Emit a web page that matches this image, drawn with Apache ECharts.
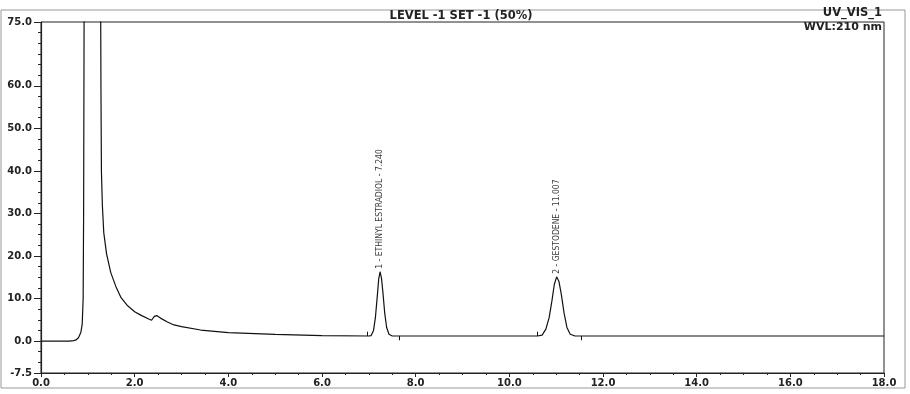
<!DOCTYPE html>
<html>
<head>
<meta charset="utf-8">
<script src="https://cdn.jsdelivr.net/npm/echarts@6/dist/echarts.min.js"></script>
<style>
html,body{margin:0;padding:0;background:#fff;}
#chart{width:910px;height:394px;}
</style>
</head>
<body>
<div id="chart"></div>
<script>
// Retention time (min) and detector signal (mAU)
var times = [0.0, 0.3, 0.6, 0.7, 0.75, 0.8, 0.85, 0.88, 0.9, 0.91, 0.92, 0.95, 1.1, 1.26, 1.28, 1.29, 1.31, 1.34, 1.4, 1.49, 1.6, 1.71, 1.85, 2.0, 2.13, 2.3, 2.36, 2.42, 2.47, 2.55, 2.7, 2.84, 3.0, 3.41, 4.0, 5.0, 6.0, 7.0, 7.05, 7.10, 7.14, 7.18, 7.21, 7.24, 7.27, 7.30, 7.34, 7.38, 7.43, 7.50, 8.0, 9.0, 10.0, 10.6, 10.70, 10.78, 10.85, 10.91, 10.96, 11.01, 11.06, 11.11, 11.17, 11.23, 11.30, 11.40, 12.0, 14.0, 16.0, 18.0];
var signal = [0.0, 0.0, 0.0, 0.1, 0.3, 0.8, 2.0, 4.0, 10.0, 30.0, 75.0, 150.0, 200.0, 120.0, 60.0, 40.0, 32.0, 25.5, 20.5, 16.1, 12.8, 10.2, 8.3, 6.9, 6.1, 5.2, 4.9, 5.8, 6.0, 5.4, 4.5, 3.8, 3.4, 2.6, 2.0, 1.6, 1.3, 1.2, 1.3, 2.5, 5.5, 10.5, 14.5, 16.3, 14.8, 11.5, 6.5, 3.2, 1.6, 1.2, 1.2, 1.2, 1.2, 1.2, 1.4, 2.8, 5.5, 9.5, 13.3, 15.1, 14.0, 11.0, 6.5, 3.2, 1.6, 1.2, 1.2, 1.2, 1.2, 1.2];

// Identified peaks
var peakTimes = [7.24, 11.01];
var peakHeights = [16.3, 15.1];
var peakLabels = ['1 - ETHINYL ESTRADIOL - 7.240', '2 - GESTODENE - 11.007'];

// Integration start/end markers: [time, baseline, tip]
var markerTimes = [6.97, 7.65, 10.60, 11.53];
var markerBase = [1.2, 1.2, 1.2, 1.2];
var markerTip = [2.2, 0.2, 2.2, 0.2];

// Axis ticks
var xTicks = [0, 2, 4, 6, 8, 10, 12, 14, 16, 18];
var yLabelValues = [-7.5, 0, 10, 20, 30, 40, 50, 60, 75];

var titleText = 'LEVEL -1 SET -1 (50%)';
var channelText = 'UV_VIS_1';
var wvlText = 'WVL:210 nm';

var traceData = times.map(function (t, i) { return [t, signal[i]]; });
var peakData = peakTimes.map(function (t, i) { return { value: [t, peakHeights[i]], name: peakLabels[i] }; });
var markerLines = markerTimes.map(function (t, i) { return [{ coord: [t, markerBase[i]] }, { coord: [t, markerTip[i]] }]; });

var tickFont = { fontFamily: 'DejaVu Sans', fontWeight: 'bold', fontSize: 10, color: '#222' };

var chart = echarts.init(document.getElementById('chart'), null, { renderer: 'canvas' });
chart.setOption({
  animation: false,
  backgroundColor: '#fff',
  grid: { left: 41, right: 26, top: 22, bottom: 21, show: true, borderColor: '#222', borderWidth: 1, backgroundColor: 'transparent' },
  xAxis: {
    type: 'value', min: xTicks[0], max: xTicks[xTicks.length - 1], interval: 2,
    axisLine: { show: true, onZero: false, lineStyle: { color: '#222', width: 1.2 } },
    axisTick: { show: true, length: 4, lineStyle: { color: '#222' } },
    minorTick: { show: true, splitNumber: 4, length: 2, lineStyle: { color: '#222' } },
    splitLine: { show: false },
    axisLabel: Object.assign({ margin: 5, formatter: function (v) { return v.toFixed(1); } }, tickFont)
  },
  yAxis: [{
    type: 'value', min: -7.5, max: 75,
    axisLine: { show: true, onZero: false, lineStyle: { color: '#222', width: 1.2 } },
    axisTick: { show: true, length: 7, customValues: yLabelValues, lineStyle: { color: '#222' } },
    splitLine: { show: false },
    axisLabel: Object.assign({ margin: 9, customValues: yLabelValues, formatter: function (v) { return v.toFixed(1); } }, tickFont)
  }, {
    type: 'value', min: -7.5, max: 75, interval: 2.5, position: 'left',
    axisLine: { show: false },
    axisTick: { show: true, length: 3, lineStyle: { color: '#222' } },
    axisLabel: { show: false },
    splitLine: { show: false }
  }],
  series: [{
    type: 'line', data: traceData, showSymbol: false, symbol: 'none', clip: true,
    lineStyle: { color: '#111', width: 1.2 },
    markLine: { silent: true, symbol: 'none', label: { show: false }, lineStyle: { color: '#111', width: 1, type: 'solid' }, data: markerLines }
  }, {
    type: 'scatter', data: peakData, symbolSize: 0, silent: true,
    label: {
      show: true, position: 'top', distance: 3, rotate: 90, align: 'left', verticalAlign: 'middle',
      fontFamily: '"DejaVu Sans Condensed", "Liberation Sans Narrow", "Liberation Sans"', fontSize: 8.5, color: '#000',
      formatter: function (p) { return p.name; }
    }
  }],
  graphic: [
    { type: 'rect', shape: { x: 1, y: 10, width: 904, height: 378 }, style: { fill: 'none', stroke: '#999', lineWidth: 1 }, silent: true },
    { type: 'text', x: 461, y: 16, style: { text: titleText, font: 'bold 11.5px "DejaVu Sans"', fill: '#222', textAlign: 'center', textVerticalAlign: 'middle' } },
    { type: 'text', x: 882, y: 13, style: { text: channelText, font: 'bold 11.5px "DejaVu Sans"', fill: '#222', textAlign: 'right', textVerticalAlign: 'middle' } },
    { type: 'text', x: 882, y: 27, style: { text: wvlText, font: 'bold 11px "DejaVu Sans"', fill: '#222', textAlign: 'right', textVerticalAlign: 'middle' } }
  ]
});
</script>
</body>
</html>
